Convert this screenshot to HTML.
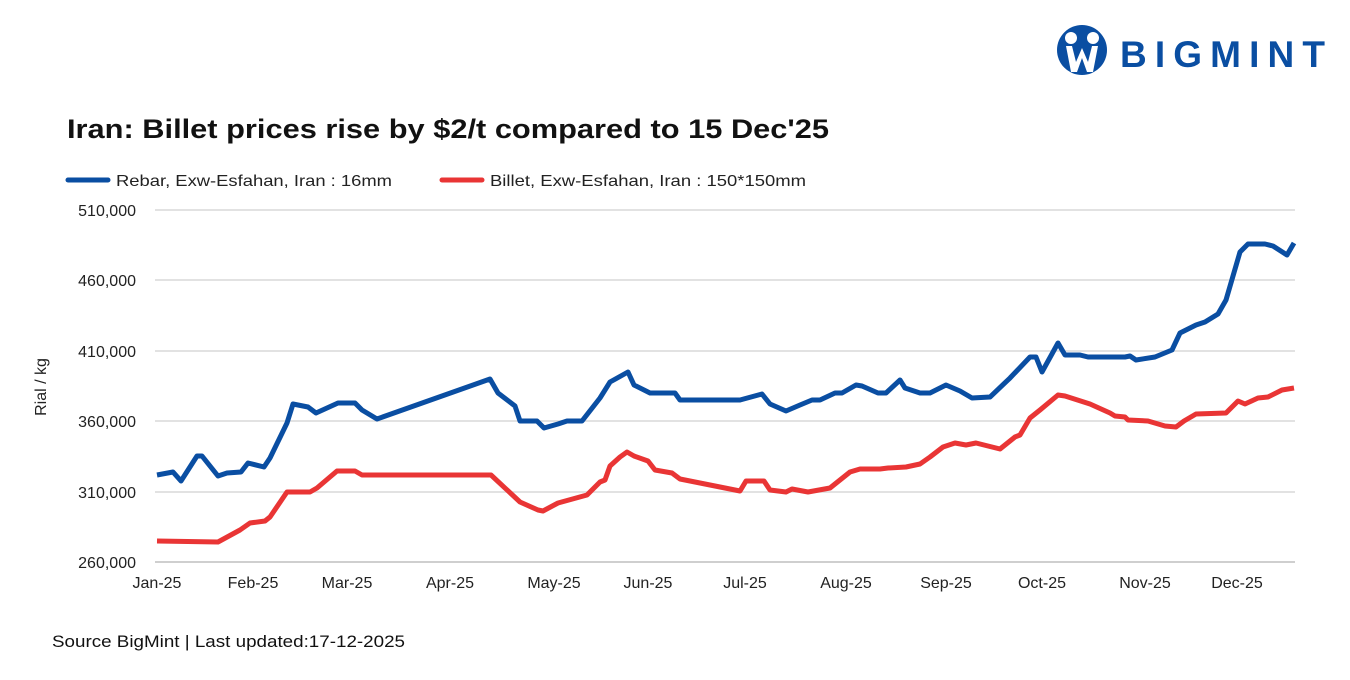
<!DOCTYPE html>
<html><head><meta charset="utf-8"><style>
body{margin:0;width:1350px;height:675px;background:#fff;font-family:"Liberation Sans",sans-serif;overflow:hidden}
</style></head><body>
<svg width="1350" height="675" xmlns="http://www.w3.org/2000/svg" font-family="Liberation Sans, sans-serif">
<rect width="1350" height="675" fill="#fff"/>
<!-- logo -->
<circle cx="1082" cy="50" r="25" fill="#0a4ea2"/>
<circle cx="1071" cy="38" r="6" fill="#fff"/>
<circle cx="1093" cy="38" r="6" fill="#fff"/>
<path d="M1066 46 L1071 72 L1077 72 L1082 58 L1087 72 L1093 72 L1098 46 L1092 46 L1088 62 L1082 48 L1076 62 L1072 46Z" fill="#fff"/>
<text x="1120" y="67" font-size="37" font-weight="bold" fill="#0a4ea2" textLength="205" lengthAdjust="spacing">BIGMINT</text>
<text x="67" y="138" font-size="27" font-weight="bold" fill="#111" textLength="762" lengthAdjust="spacingAndGlyphs">Iran: Billet prices rise by $2/t compared to 15 Dec'25</text>
<line x1="68" y1="180" x2="108" y2="180" stroke="#0a4ea2" stroke-width="5" stroke-linecap="round"/>
<text x="116" y="186" font-size="16" fill="#222" textLength="276" lengthAdjust="spacingAndGlyphs">Rebar, Exw-Esfahan, Iran : 16mm</text>
<line x1="442" y1="180" x2="482" y2="180" stroke="#e93535" stroke-width="5" stroke-linecap="round"/>
<text x="490" y="186" font-size="16" fill="#222" textLength="316" lengthAdjust="spacingAndGlyphs">Billet, Exw-Esfahan, Iran : 150*150mm</text>
<g stroke="#d9d9d9" stroke-width="1.5">
<line x1="155" y1="210" x2="1295" y2="210"/><line x1="155" y1="280" x2="1295" y2="280"/>
<line x1="155" y1="351" x2="1295" y2="351"/><line x1="155" y1="421" x2="1295" y2="421"/>
<line x1="155" y1="492" x2="1295" y2="492"/></g>
<line x1="155" y1="562" x2="1295" y2="562" stroke="#bfbfbf" stroke-width="1.5"/>
<g font-size="16" fill="#222" text-anchor="end">
<text x="136" y="216">510,000</text><text x="136" y="286">460,000</text><text x="136" y="357">410,000</text>
<text x="136" y="427">360,000</text><text x="136" y="498">310,000</text><text x="136" y="568">260,000</text></g>
<text transform="translate(46,387) rotate(-90)" font-size="16" fill="#222" text-anchor="middle">Rial / kg</text>
<g font-size="16" fill="#222" text-anchor="middle">
<text x="157" y="588">Jan-25</text><text x="253" y="588">Feb-25</text><text x="347" y="588">Mar-25</text>
<text x="450" y="588">Apr-25</text><text x="554" y="588">May-25</text><text x="648" y="588">Jun-25</text>
<text x="745" y="588">Jul-25</text><text x="846" y="588">Aug-25</text><text x="946" y="588">Sep-25</text>
<text x="1042" y="588">Oct-25</text><text x="1145" y="588">Nov-25</text><text x="1237" y="588">Dec-25</text></g>
<polyline fill="none" stroke="#0a4ea2" stroke-width="5" stroke-linejoin="round" points="157,475 173,472 181,481 197,456 202,456 218,476 227,473 241,472 248,463 264,467 270,458 287,423 293,404 308,407 316,413 338,403 355,403 362,410 377,419 490,379 498,393 515,406 520,421 537,421 544,428 558,424 567,421 582,421 600,398 610,382 628,372 634,385 650,393 675,393 680,400 740,400 762,394 770,404 786,411 800,405 812,400 820,400 835,393 842,393 856,385 862,386 878,393 886,393 900,380 905,388 920,393 930,393 946,385 960,391 972,398 990,397 1010,378 1030,357 1036,357 1042,372 1058,343 1065,355 1080,355 1088,357 1125,357 1130,356 1136,360 1155,357 1172,350 1180,333 1196,325 1205,322 1218,314 1226,300 1240,252 1248,244 1265,244 1273,246 1287,255 1294,243"/>
<polyline fill="none" stroke="#e93535" stroke-width="5" stroke-linejoin="round" points="157,541 218,542 240,530 250,523 265,521 270,517 287,492 310,492 317,488 337,471 355,471 362,475 491,475 520,502 538,510 543,511 558,503 587,495 600,482 605,480 610,466 620,457 627,452 634,456 648,461 655,470 672,473 680,479 740,491 746,481 764,481 770,490 786,492 792,489 808,492 830,488 850,472 860,469 880,469 888,468 906,467 920,464 930,457 943,447 955,443 966,445 976,443 992,447 1000,449 1015,437 1020,435 1030,418 1040,410 1058,395 1065,396 1090,404 1110,413 1115,416 1125,417 1128,420 1148,421 1165,426 1176,427 1184,421 1196,414 1226,413 1238,401 1245,404 1258,398 1268,397 1282,390 1294,388"/>
<text x="52" y="647" font-size="17" fill="#111" textLength="353" lengthAdjust="spacingAndGlyphs">Source BigMint | Last updated:17-12-2025</text>
</svg>
</body></html>
